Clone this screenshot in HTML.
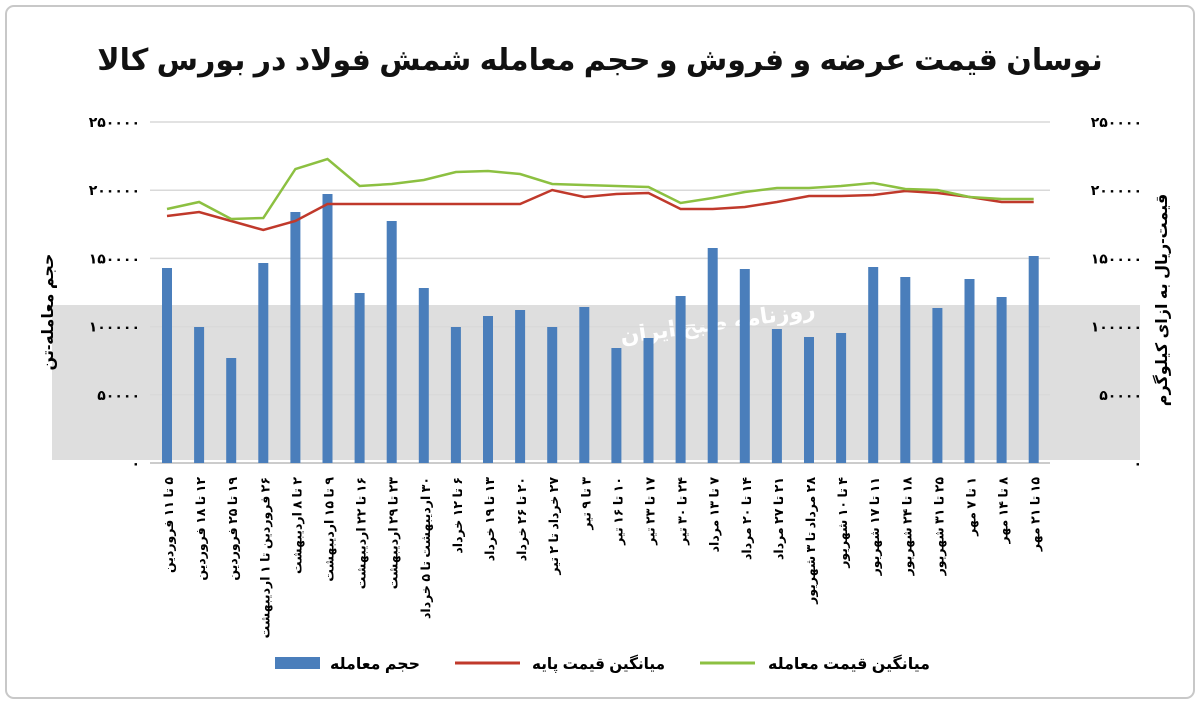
<!DOCTYPE html>
<html><head><meta charset="utf-8"><style>
body{margin:0;background:#fff;}
svg{display:block;font-family:"Liberation Sans","DejaVu Sans",sans-serif;}
</style></head><body>
<svg id="s" width="1200" height="704" xmlns="http://www.w3.org/2000/svg">
<rect x="6" y="6" width="1188" height="692" rx="8" fill="#fff" stroke="#c8c8c8" stroke-width="2"/>
<rect x="52" y="305" width="1088" height="155" fill="#dedede"/>
<text x="718" y="330" font-size="22" fill="#fff" text-anchor="middle" direction="rtl" font-weight="bold" transform="rotate(-8 718 325)">روزنامه صبح ایران</text>
<text x="600" y="70" font-size="30" font-weight="bold" text-anchor="middle" direction="rtl" fill="#111">نوسان قیمت عرضه و فروش و حجم معامله شمش فولاد در بورس کالا</text>
<g id="g"></g>
<text transform="translate(53,312) rotate(-90)" font-size="16" font-weight="bold" text-anchor="middle" direction="rtl">حجم معامله-تن</text>
<text transform="translate(1167,300) rotate(-90)" font-size="16" font-weight="bold" text-anchor="middle" direction="rtl">قیمت-ریال به ازای کیلوگرم</text>
<rect x="275" y="657" width="45" height="12" fill="#4a7ebb"/>
<text x="420" y="669" font-size="16" font-weight="bold" text-anchor="start" direction="rtl" textLength="90" lengthAdjust="spacingAndGlyphs">حجم معامله</text>
<line x1="455" y1="663" x2="520" y2="663" stroke="#c0392b" stroke-width="3"/>
<text x="665" y="669" font-size="16" font-weight="bold" text-anchor="start" direction="rtl" textLength="133" lengthAdjust="spacingAndGlyphs">میانگین قیمت پایه</text>
<line x1="700" y1="663" x2="755" y2="663" stroke="#8cc041" stroke-width="3"/>
<text x="930" y="669" font-size="16" font-weight="bold" text-anchor="start" direction="rtl" textLength="162" lengthAdjust="spacingAndGlyphs">میانگین قیمت معامله</text>
</svg>
<script>
var g=document.getElementById('g'),h='';
function fa(n){return String(n).replace(/\d/g,d=>'۰۱۲۳۴۵۶۷۸۹'[d]);}
for(var i=0;i<=5;i++){var y=463-i*68.2;
 if(i>0)h+='<line x1="150" y1="'+y+'" x2="1050" y2="'+y+'" stroke="#d9d9d9" stroke-width="1.5"/>';
 var t=i?fa(i*50000):'۰';
 h+='<text x="140" y="'+(y+5)+'" font-size="14" font-weight="bold" text-anchor="end">'+t+'</text>';
 h+='<text x="1142" y="'+(y+5)+'" font-size="14" font-weight="bold" text-anchor="end">'+t+'</text>';}
h+='<line x1="150" y1="463" x2="1050" y2="463" stroke="#bbb" stroke-width="1.5"/>';
var bars=[268,327,358,263,212,194,293,221,288,327,316,310,327,307,348,338,296,248,269,329,337,333,267,277,308,279,297,256];
var red=[216,212,221,230,221,204,204,204,204,204,204,204,190,197,194,193,209,209,207,202,196,196,195,191,193,197,202,202];
var grn=[209,202,219,218,169,159,186,184,180,172,171,174,184,185,186,187,203,198,192,188,188,186,183,189,190,197,199,199];
var labs=["۵ تا ۱۱ فروردین","۱۲ تا ۱۸ فروردین","۱۹ تا ۲۵ فروردین","۲۶ فروردین تا ۱ اردیبهشت","۲ تا ۸ اردیبهشت","۹ تا ۱۵ اردیبهشت","۱۶ تا ۲۲ اردیبهشت","۲۳ تا ۲۹ اردیبهشت","۳۰ اردیبهشت تا ۵ خرداد","۶ تا ۱۲ خرداد","۱۳ تا ۱۹ خرداد","۲۰ تا ۲۶ خرداد","۲۷ خرداد تا ۲ تیر","۳ تا ۹ تیر","۱۰ تا ۱۶ تیر","۱۷ تا ۲۳ تیر","۲۴ تا ۳۰ تیر","۷ تا ۱۳ مرداد","۱۴ تا ۲۰ مرداد","۲۱ تا ۲۷ مرداد","۲۸ مرداد تا ۳ شهریور","۴ تا ۱۰ شهریور","۱۱ تا ۱۷ شهریور","۱۸ تا ۲۴ شهریور","۲۵ تا ۳۱ شهریور","۱ تا ۷ مهر","۸ تا ۱۴ مهر","۱۵ تا ۲۱ مهر"];
var X=i=>167+i*32.1,pr='',pg='';
for(var i=0;i<28;i++){var x=X(i);
 h+='<rect x="'+(x-5)+'" y="'+bars[i]+'" width="10" height="'+(463-bars[i])+'" fill="#4a7ebb"/>';
 h+='<text transform="translate('+(x+6)+',477) rotate(-90)" font-size="12.5" font-weight="bold" direction="rtl" text-anchor="start">'+labs[i]+'</text>';
 pr+=(i?'L':'M')+x+' '+red[i];pg+=(i?'L':'M')+x+' '+grn[i];}
h+='<path d="'+pr+'" fill="none" stroke="#c0392b" stroke-width="2.5"/>';
h+='<path d="'+pg+'" fill="none" stroke="#8cc041" stroke-width="2.5"/>';
g.innerHTML=h;
</script>
</body></html>
